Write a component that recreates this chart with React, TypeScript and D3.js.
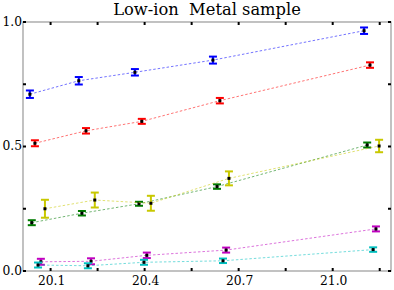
import React, { useEffect, useRef } from "react";
import * as d3 from "d3";

const W = 394;
const H = 290;

// data
const seriesNames = ["blue", "red", "green", "yellow", "magenta", "cyan"];
const seriesColors = ["#0000ff", "#ff0000", "#007a00", "#c8c800", "#c000c0", "#00c0c0"];
const xBlue = [20.034, 20.19, 20.369, 20.618, 21.1];
const yBlue = [0.71, 0.764, 0.798, 0.847, 0.965];
const eBlue = [0.015, 0.015, 0.013, 0.014, 0.013];
const xRed = [20.05, 20.213, 20.391, 20.64, 21.119];
const yRed = [0.513, 0.563, 0.601, 0.684, 0.827];
const eRed = [0.012, 0.011, 0.01, 0.011, 0.011];
const xGreen = [20.04, 20.2, 20.382, 20.631, 21.11];
const yGreen = [0.194, 0.232, 0.27, 0.339, 0.506];
const eGreen = [0.01, 0.009, 0.008, 0.009, 0.01];
const xYellow = [20.082, 20.241, 20.42, 20.669, 21.148];
const yYellow = [0.25, 0.285, 0.272, 0.372, 0.502];
const eYellow = [0.036, 0.03, 0.03, 0.028, 0.025];
const xMagenta = [20.069, 20.229, 20.407, 20.66, 21.138];
const yMagenta = [0.037, 0.039, 0.063, 0.084, 0.169];
const eMagenta = [0.012, 0.012, 0.011, 0.01, 0.01];
const xCyan = [20.06, 20.219, 20.398, 20.65, 21.129];
const yCyan = [0.024, 0.021, 0.035, 0.041, 0.086];
const eCyan = [0.01, 0.01, 0.01, 0.009, 0.009];

const xMajor = [20.1, 20.4, 20.7, 21.0];
const xMinor = [20.25, 20.55, 20.85, 21.15];
const yMajor = [0, 0.5, 1.0];
const yMinor = [0.25, 0.75];

const titleText = "Low-ion  Metal sample";

function App() {
  const svgRef = useRef<SVGSVGElement>(null);

  useEffect(() => {
    const svg = d3.select(svgRef.current);
    svg.selectAll("*").remove();

    const left = 23, right = 391, top = 22, bottom = 271;
    const x = d3.scaleLinear().domain([20.012, 21.186]).range([left, right]);
    const y = d3.scaleLinear().domain([0, 1]).range([bottom, top]);

    const series = [
      { xs: xBlue, ys: yBlue, es: eBlue },
      { xs: xRed, ys: yRed, es: eRed },
      { xs: xGreen, ys: yGreen, es: eGreen },
      { xs: xYellow, ys: yYellow, es: eYellow },
      { xs: xMagenta, ys: yMagenta, es: eMagenta },
      { xs: xCyan, ys: yCyan, es: eCyan },
    ].map((s, i) => ({ ...s, name: seriesNames[i], color: seriesColors[i] }));

    // frame
    svg.append("rect")
      .attr("x", left).attr("y", top)
      .attr("width", right - left).attr("height", bottom - top)
      .attr("fill", "none").attr("stroke", "#999").attr("stroke-width", 1.2);

    // ticks (small, inward, on all four sides)
    const allX = [...xMajor, ...xMinor];
    const allY = [...yMajor, ...yMinor];
    const tk = svg.append("g").attr("stroke", "#000").attr("stroke-width", 2);
    allX.forEach(v => {
      tk.append("line").attr("x1", x(v)).attr("x2", x(v)).attr("y1", bottom).attr("y2", bottom - 3);
      tk.append("line").attr("x1", x(v)).attr("x2", x(v)).attr("y1", top).attr("y2", top + 3);
    });
    allY.forEach(v => {
      tk.append("line").attr("y1", y(v)).attr("y2", y(v)).attr("x1", left).attr("x2", left + 3);
      tk.append("line").attr("y1", y(v)).attr("y2", y(v)).attr("x1", right).attr("x2", right - 3);
    });

    // tick labels
    svg.append("g")
      .selectAll("text")
      .data(xMajor)
      .join("text")
      .attr("x", d => x(d) + 1)
      .attr("y", bottom + 14)
      .attr("text-anchor", "middle")
      .attr("font-family", "DejaVu Serif")
      .attr("font-size", 12.3)
      .text(d => d3.format(".1f")(d));

    svg.append("g")
      .selectAll("text")
      .data(yMajor)
      .join("text")
      .attr("x", left - 1)
      .attr("y", d => y(d) + 3.8)
      .attr("text-anchor", "end")
      .attr("font-family", "DejaVu Serif")
      .attr("font-size", 12.3)
      .text(d => d3.format(".1f")(d));

    // title
    svg.append("text")
      .attr("x", 207)
      .attr("y", 15)
      .attr("text-anchor", "middle")
      .attr("font-family", "DejaVu Serif")
      .attr("font-size", 16.3)
      .style("white-space", "pre")
      .text(titleText);

    series.forEach(s => {
      const g = svg.append("g").attr("class", "series-" + s.name);
      const pts = s.xs.map((xv, i) => [x(xv), y(s.ys[i])] as [number, number]);
      g.append("path")
        .attr("d", d3.line()(pts))
        .attr("fill", "none")
        .attr("stroke", s.color)
        .attr("stroke-opacity", 0.55)
        .attr("stroke-width", 1)
        .attr("stroke-dasharray", "2.5,2");

      s.xs.forEach((xv, i) => {
        const cx = x(xv);
        const y1 = y(s.ys[i] + s.es[i]);
        const y2 = y(s.ys[i] - s.es[i]);
        g.append("line")
          .attr("x1", cx).attr("x2", cx).attr("y1", y1).attr("y2", y2)
          .attr("stroke", s.color).attr("stroke-width", 2);
        [y1, y2].forEach(yy => {
          g.append("line")
            .attr("x1", cx - 4).attr("x2", cx + 4).attr("y1", yy).attr("y2", yy)
            .attr("stroke", s.color).attr("stroke-width", 2);
        });
        g.append("rect")
          .attr("x", cx - 1.5).attr("y", y(s.ys[i]) - 1.5)
          .attr("width", 3).attr("height", 3)
          .attr("fill", "#000");
      });
    });
  }, []);

  return (
    <div style={{ position: "absolute", left: 0, top: 0 }}>
      <svg ref={svgRef} width={W} height={H} style={{ display: "block", background: "#fff" }} />
    </div>
  );
}

export default App;
